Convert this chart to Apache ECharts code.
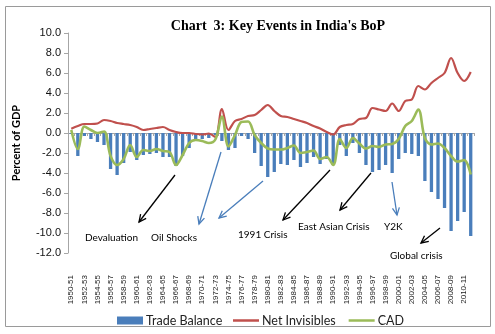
<!DOCTYPE html>
<html>
<head>
<meta charset="utf-8">
<script src="https://cdn.jsdelivr.net/npm/echarts@6/dist/echarts.min.js"></script>
<style>
  html, body { margin: 0; padding: 0; background: #fff; }
  #chart { width: 495px; height: 334px; }
</style>
</head>
<body>
<div id="chart"></div>
<script>
// Fiscal years 1950-51 .. 2011-12
const years = [];
for (let y = 1950; y <= 2011; y++) {
  years.push(y + '-' + String((y + 1) % 100).padStart(2, '0'));
}

// Per cent of GDP
const tradeBalance = [
  -0.1, -2.3, -0.3, -0.6, -0.9, -1.2, -3.6, -4.2, -3.0, -1.9,
  -2.7, -2.2, -2.1, -2.0, -2.4, -2.4, -3.3, -2.3, -1.5, -0.7,
  -0.6, -0.5, -0.2, -0.8, -1.7, -1.5, -0.3, -0.6, -2.0, -3.3,
  -4.4, -3.9, -3.1, -3.2, -2.7, -3.4, -3.0, -2.4, -3.1, -2.6,
  -3.2, -1.2, -2.3, -1.0, -2.0, -3.2, -3.9, -3.7, -3.2, -4.0,
  -2.6, -2.0, -2.1, -2.3, -4.8, -5.9, -6.6, -7.5, -9.8, -8.8,
  -7.9, -10.3
];
const netInvisibles = [
  0.43, 0.7, 0.9, 0.9, 0.95, 1.3, 1.2, 1.0, 0.9, 0.8,
  0.6, 0.3, 0.4, 0.5, 0.6, 0.3, 0.1, 0.0, 0.0, -0.1,
  -0.15, -0.05, -0.4, 2.4, 0.3, 1.2, 1.4, 1.7, 1.8, 2.3,
  2.8, 2.2, 1.7, 1.6, 1.4, 1.2, 1.0, 0.7, 0.45, 0.1,
  -0.15, 0.6, 0.8, 0.9, 1.4, 1.5, 2.5, 2.35, 2.2, 2.95,
  2.2, 3.2, 3.35, 4.7, 4.35, 5.0, 5.5, 6.0, 7.5, 6.0,
  5.2, 6.1
];
const cad = [
  0.3, -1.6, 0.65, 0.3, 0.0, 0.15, -2.3, -3.2, -2.6, -1.2,
  -2.4, -1.7, -1.8, -1.6, -1.8, -1.9, -3.2, -2.2, -1.0, -0.7,
  -0.8, -1.0, -0.65, 1.65, -1.35, -0.2, 1.1, 1.15, -0.2, -1.0,
  -1.55, -1.65, -1.65, -1.5, -1.25, -2.0, -1.9, -1.75, -2.6, -2.4,
  -3.2, -0.6, -1.5, -0.5, -1.05, -1.55, -1.3, -1.4, -1.15, -1.1,
  -0.6, 0.7, 1.2, 2.35, -0.5, -1.15, -1.05, -1.5, -2.3, -2.85,
  -2.7, -4.15
];

// Event notes: text, text anchor, arrow tail, arrow head, colour
const events = [
  { text: 'Devaluation',       at: [85, 238],  from: [175, 175], to: [139, 222], color: '#000' },
  { text: 'Oil Shocks',        at: [151, 238], from: [221, 152], to: [199, 224], color: '#4a7ebb' },
  { text: '',                  at: [0, 0],     from: [263, 181], to: [219, 218], color: '#4a7ebb' },
  { text: '1991 Crisis',       at: [238, 235], from: [330, 170], to: [283, 220], color: '#000' },
  { text: 'East Asian Crisis', at: [298, 227], from: [371, 173], to: [340, 210], color: '#000' },
  { text: 'Y2K',               at: [384, 227], from: [392, 182], to: [397, 215], color: '#4a7ebb' },
  { text: 'Global crisis',     at: [390, 256], from: [440, 228], to: [421, 243], color: '#000' }
];

function arrowShapes(e) {
  const [x1, y1] = e.from, [x2, y2] = e.to;
  const ang = Math.atan2(y2 - y1, x2 - x1);
  const L = 8, spread = 0.45;
  const a1 = ang + Math.PI - spread, a2 = ang + Math.PI + spread;
  const out = [
    { type: 'line', shape: { x1, y1, x2, y2 }, style: { stroke: e.color, lineWidth: 1.3 } },
    { type: 'polyline', shape: { points: [
        [x2 + L * Math.cos(a1), y2 + L * Math.sin(a1)], [x2, y2],
        [x2 + L * Math.cos(a2), y2 + L * Math.sin(a2)] ] },
      style: { stroke: e.color, lineWidth: 1.3, fill: null } }
  ];
  if (e.text) {
    out.push({ type: 'text', x: e.at[0], y: e.at[1],
      style: { text: e.text, font: '10px Lato', fill: '#000', textVerticalAlign: 'middle' } });
  }
  return out;
}

const graphics = [
  { type: 'rect', shape: { x: 5.5, y: 6.5, width: 485, height: 320 },
    style: { stroke: '#9a9a9a', fill: null, lineWidth: 1 }, z: -1 },
  { type: 'text', x: 278, y: 26,
    style: { text: "Chart  3: Key Events in India's BoP", font: 'bold 14px "Liberation Serif"',
             fill: '#000', textAlign: 'center', textVerticalAlign: 'middle' } }
];
events.forEach(e => graphics.push(...arrowShapes(e)));

const legendText = { fontSize: 12.5, color: '#222', fontFamily: 'Lato', padding: [0, 0, 0, -2] };

const chart = echarts.init(document.getElementById('chart'), null, { renderer: 'canvas' });
chart.setOption({
  animation: false,
  backgroundColor: '#fff',
  textStyle: { fontFamily: 'Lato' },
  grid: { left: 68, right: 21, top: 33, bottom: 81, containLabel: false },
  legend: [
    {
      left: 112, top: 309, itemWidth: 26, itemHeight: 8,
      textStyle: legendText,
      data: [{ name: 'Trade Balance', icon: 'rect' }]
    },
    {
      left: 228, top: 309, itemWidth: 26, itemHeight: 2.5, itemGap: 13,
      textStyle: legendText,
      data: [{ name: 'Net Invisibles', icon: 'rect' }, { name: 'CAD', icon: 'rect' }]
    }
  ],
  xAxis: [
    {
      type: 'category', data: years, position: 'bottom',
      axisLine: { show: false, onZero: false }, axisTick: { show: false },
      axisLabel: { interval: 1, rotate: 90, fontSize: 8, color: '#222',
                   fontFamily: 'Liberation Sans', margin: 22 }
    },
    {
      type: 'category', data: years, position: 'bottom',
      axisLine: { show: true, onZero: true, lineStyle: { color: '#a6a6a6', width: 1 } },
      axisTick: { show: true, interval: 0, length: 3, lineStyle: { color: '#a6a6a6' } },
      axisLabel: { show: false }
    }
  ],
  yAxis: {
    type: 'value', min: -12, max: 10, interval: 2,
    name: 'Percent of GDP', nameLocation: 'middle', nameGap: 46, nameRotate: 90,
    nameTextStyle: { fontSize: 11, fontWeight: 'bold', color: '#000', fontFamily: 'Lato' },
    axisLine: { show: true, lineStyle: { color: '#a6a6a6' } },
    axisTick: { show: true, length: 4, lineStyle: { color: '#a6a6a6' } },
    splitLine: { show: false },
    axisLabel: { formatter: v => v.toFixed(1), fontSize: 11, color: '#111',
                 fontFamily: 'Liberation Sans', margin: 7 }
  },
  series: [
    {
      name: 'Trade Balance', type: 'bar', data: tradeBalance, barWidth: 3.3,
      itemStyle: { color: '#4a7ebb' }, z: 2
    },
    {
      name: 'Net Invisibles', type: 'line', data: netInvisibles, smooth: 0.35,
      symbol: 'none', lineStyle: { color: '#c0504d', width: 2.2 },
      itemStyle: { color: '#c0504d' }, z: 3
    },
    {
      name: 'CAD', type: 'line', data: cad, smooth: 0.35,
      symbol: 'none', lineStyle: { color: '#9bbb59', width: 2.6 },
      itemStyle: { color: '#9bbb59' }, z: 4
    }
  ],
  graphic: graphics
});
</script>
</body>
</html>
